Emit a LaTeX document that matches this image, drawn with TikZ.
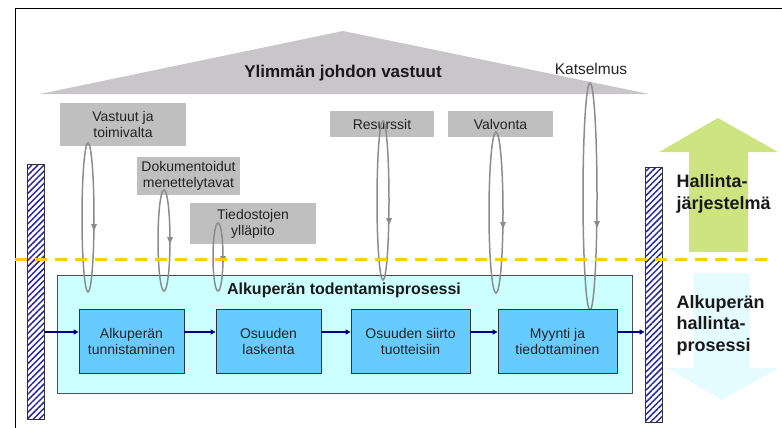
\documentclass[tikz,border=0pt]{standalone}
\usepackage{fontspec}
\setmainfont{Liberation Sans}
\usetikzlibrary{patterns.meta,arrows.meta}
\definecolor{roofgray}{RGB}{200,198,200}
\definecolor{boxgray}{RGB}{191,191,191}
\definecolor{loopgray}{RGB}{140,140,140}
\definecolor{procfill}{RGB}{204,255,255}
\definecolor{stepfill}{RGB}{102,204,255}
\definecolor{navyc}{RGB}{0,0,128}
\definecolor{hatchblue}{RGB}{40,40,160}
\definecolor{dashyellow}{RGB}{255,204,0}
\definecolor{upgreen}{RGB}{206,228,128}
\definecolor{downcyan}{RGB}{228,252,255}
\definecolor{txt}{RGB}{35,35,35}
\begin{document}
\begin{tikzpicture}[x=1pt,y=-1pt,
  gbox/.style={fill=boxgray, inner sep=0pt, align=center, text=txt, font=\fontsize{14}{16}\selectfont},
  procbox/.style={fill=procfill, draw=black!70, line width=0.8pt, inner sep=0pt},
  stepbox/.style={fill=stepfill, draw=black!80, line width=0.8pt, inner sep=0pt, align=center, text=txt,
     minimum height=64, font=\fontsize{14}{16}\selectfont},
  hatchbar/.style={draw=black!80, line width=0.8pt, inner sep=0pt, minimum width=17, minimum height=255,
     pattern={Lines[angle=45, distance=4.3pt, line width=1.5pt]}, pattern color=hatchblue},
  loopline/.style={draw=loopgray, line width=1.5pt},
  looparrow/.style={draw=none, fill=loopgray},
  flow/.style={navyc, line width=1.6pt, -{Triangle[length=5pt,width=5pt]}},
  bigtext/.style={anchor=west, align=left, font=\bfseries\fontsize{18}{21.5}\selectfont, text=black!90},
]
\useasboundingbox (0,0) rectangle (782,428);
% frame
\draw[line width=1pt] (15,428) -- (15,9) -- (782,9);
% big arrows
\fill[upgreen] (689,252) -- (689,152) -- (659,152) -- (718,118) -- (778,152) -- (748,152) -- (748,252) -- cycle;
\fill[downcyan] (694,273) -- (750,273) -- (750,368) -- (778,368) -- (722,400) -- (667,368) -- (694,368) -- cycle;
% roof
\fill[roofgray] (40,94) -- (343,31) -- (649,94) -- cycle;
\node[font=\bfseries\fontsize{17}{20}\selectfont, text=black!90] (roof) at (343,73) {Ylimmän johdon vastuut};
% gray boxes
\node[gbox, minimum width=126, minimum height=43] (vastuut) at (123,124.5) {Vastuut ja\\toimivalta};
\node[gbox, minimum width=103, minimum height=38] (dok) at (188.5,176) {Dokumentoidut\\menettelytavat};
\node[gbox, minimum width=126, minimum height=41] (tied) at (253,223.5) {Tiedostojen\\ylläpito};
\node[gbox, minimum width=104, minimum height=26] (res) at (382,124) {Resurssit};
\node[gbox, minimum width=105, minimum height=26] (valv) at (500.5,124) {Valvonta};
\node[text=txt, font=\fontsize{15.5}{18}\selectfont] (kats) at (591,69) {Katselmus};
% process box
\node[procbox, minimum width=575, minimum height=118] (proc) at (344.5,334) {};
\node[font=\bfseries\fontsize{16}{19}\selectfont, text=black!90] (proctitle) at (344,290) {Alkuperän todentamisprosessi};
% loops
\draw[loopline] (88,217.5) ellipse [x radius=6pt, y radius=74.5pt];
\fill[looparrow] (91,224) -- (97,224) -- (94,231) -- cycle;
\draw[loopline] (164,240.5) ellipse [x radius=6pt, y radius=50.5pt];
\fill[looparrow] (167,237) -- (173,237) -- (170,244) -- cycle;
\draw[loopline] (218,257) ellipse [x radius=5pt, y radius=34pt];
\fill[looparrow] (220,256) -- (226,256) -- (223,263) -- cycle;
\draw[loopline] (383,200.5) ellipse [x radius=6pt, y radius=79.5pt];
\fill[looparrow] (386,218) -- (392,218) -- (389,225) -- cycle;
\draw[loopline] (496,212.5) ellipse [x radius=7pt, y radius=80.5pt];
\fill[looparrow] (500,222) -- (506,222) -- (503,229) -- cycle;
\draw[loopline] (590,196.5) ellipse [x radius=7pt, y radius=113.5pt];
\fill[looparrow] (594,221) -- (600,221) -- (597,228) -- cycle;
% steps
\node[stepbox, minimum width=105] (b1) at (131.5,341) {Alkuperän\\tunnistaminen};
\node[stepbox, minimum width=105] (b2) at (268.5,341) {Osuuden\\laskenta};
\node[stepbox, minimum width=119] (b3) at (410.5,341) {Osuuden siirto\\tuotteisiin};
\node[stepbox, minimum width=119] (b4) at (557.5,341) {Myynti ja\\tiedottaminen};
% hatched bars
\node[hatchbar] (lbar) at (35.5,291.5) {};
\node[hatchbar] (rbar) at (653.5,294.5) {};
% dashed line
\draw[dashyellow, line width=3pt, dash pattern=on 12pt off 8pt] (15,259) -- (775,259);
% flow arrows
\coordinate (ay) at (0,332);
\draw[flow] (lbar.east |- ay) -- (b1.west |- ay);
\draw[flow] (b1.east |- ay) -- (b2.west |- ay);
\draw[flow] (b2.east |- ay) -- (b3.west |- ay);
\draw[flow] (b3.east |- ay) -- (b4.west |- ay);
\draw[flow] (b4.east |- ay) -- (rbar.west |- ay);
% right texts
\node[bigtext] (hj) at (673,194) {Hallinta-\\järjestelmä};
\node[bigtext] (ahp) at (673,325) {Alkuperän\\hallinta-\\prosessi};
\end{tikzpicture}
\end{document}
